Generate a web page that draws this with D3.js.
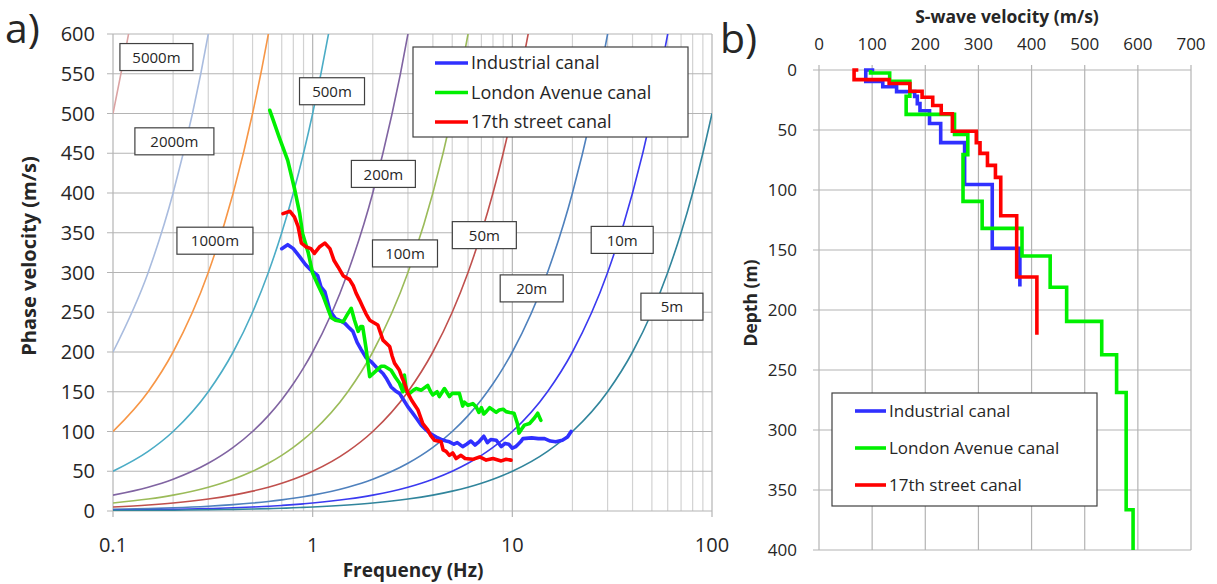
<!DOCTYPE html>
<html>
<head>
<meta charset="utf-8">
<script src="https://cdn.jsdelivr.net/npm/d3@7"></script>
<style>
  body { margin: 0; background: #fff; }
  text { font-family: "Open Sans", "Noto Sans", sans-serif; fill: #262626; }
</style>
</head>
<body>
<svg id="fig" width="1217" height="584"></svg>
<script>
// ---- panel a) data ----
const freqTicks = [0.1, 1, 10, 100];
const freqMinor = [0.2, 0.3, 0.4, 0.5, 0.6, 0.7, 0.8, 0.9, 2, 3, 4, 5, 6, 7, 8, 9, 20, 30, 40, 50, 60, 70, 80, 90];
const phaseTicks = [0, 50, 100, 150, 200, 250, 300, 350, 400, 450, 500, 550, 600];

// constant-wavelength reference lines (v = wavelength * f), sampled at these frequencies
const wavelengths = [5000, 2000, 1000, 500, 200, 100, 50, 20, 10, 5];
const wavelengthNames = ['5000m', '2000m', '1000m', '500m', '200m', '100m', '50m', '20m', '10m', '5m'];
const wavelengthColors = ['#dba3a3', '#a9bcdf', '#f79646', '#4bacc6', '#8064a2', '#9bbb59', '#c0504d', '#4f81bd', '#3a3af0', '#31859c'];
const sampleFreqs = [0.1, 0.15, 0.2, 0.3, 0.4, 0.5, 0.6, 0.7, 0.8, 0.9, 1, 1.5, 2, 3, 4, 5, 6, 7, 8, 9, 10, 15, 20, 30, 40, 50, 60, 70, 80, 90, 100];

const seriesNames = ['Industrial canal', 'London Avenue canal', '17th street canal'];
const seriesColors = ['#3030ff', '#00f000', '#ff0000'];

// dispersion curves [frequency Hz, phase velocity m/s]
const industrialDisp = [
  [0.70, 330], [0.75, 335], [0.80, 330], [0.86, 320], [0.92, 310], [0.97, 304], [1.06, 296], [1.10, 282],
  [1.15, 276], [1.22, 252], [1.30, 242], [1.36, 240], [1.45, 236], [1.53, 230], [1.59, 226], [1.67, 212],
  [1.75, 203], [1.85, 193], [1.96, 188], [2.10, 180], [2.25, 173], [2.35, 166], [2.47, 156], [2.60, 151],
  [2.72, 148], [2.85, 140], [3.00, 131], [3.15, 124], [3.30, 117], [3.50, 108], [3.70, 102], [3.90, 97],
  [4.16, 93], [4.40, 90], [4.66, 88], [4.84, 87], [5.10, 84], [5.30, 86], [5.64, 81], [5.90, 84],
  [6.20, 88], [6.50, 83], [6.80, 87], [7.20, 94], [7.50, 86], [7.80, 90], [8.30, 89], [8.80, 81],
  [9.20, 85], [9.60, 84], [10.0, 79], [10.4, 81], [10.7, 84], [11.0, 87], [11.3, 91], [12.5, 92],
  [13.5, 91], [14.5, 91], [15.5, 88], [16.5, 87], [17.8, 89], [18.9, 93], [19.7, 100]
];
const londonDisp = [
  [0.61, 504], [0.68, 470], [0.75, 441], [0.81, 406], [0.86, 375], [0.89, 349], [0.95, 325], [1.00, 299],
  [1.06, 285], [1.13, 270], [1.19, 255], [1.24, 243], [1.30, 240], [1.42, 238], [1.49, 247], [1.56, 255],
  [1.62, 240], [1.69, 226], [1.74, 232], [1.78, 232], [1.85, 205], [1.93, 169], [2.05, 175], [2.20, 182],
  [2.29, 182], [2.47, 177], [2.60, 168], [2.72, 161], [2.83, 150], [2.88, 171], [2.95, 150], [3.06, 148],
  [3.20, 152], [3.30, 154], [3.50, 152], [3.77, 158], [3.90, 150], [4.00, 146], [4.20, 150], [4.31, 144],
  [4.57, 154], [4.84, 144], [5.00, 148], [5.23, 148], [5.43, 148], [5.64, 132], [5.75, 137], [6.00, 133],
  [6.34, 135], [6.59, 131], [6.80, 124], [7.00, 130], [7.20, 122], [7.40, 125], [7.70, 130], [8.00, 127],
  [8.30, 124], [8.60, 127], [9.00, 128], [9.30, 125], [9.70, 124], [10.2, 123], [10.6, 110], [10.8, 98],
  [11.2, 104], [11.5, 108], [12.2, 110], [12.9, 117], [13.4, 123], [13.9, 114]
];
const streetDisp = [
  [0.71, 374], [0.77, 377], [0.81, 370], [0.845, 358], [0.878, 337], [0.93, 332], [0.98, 330], [1.02, 324],
  [1.08, 332], [1.15, 337], [1.22, 330], [1.28, 315], [1.34, 307], [1.42, 296], [1.53, 291], [1.60, 283],
  [1.65, 274], [1.72, 265], [1.78, 257], [1.85, 248], [1.93, 240], [2.12, 234], [2.20, 222], [2.25, 215],
  [2.43, 207], [2.50, 195], [2.57, 186], [2.72, 177], [2.80, 168], [2.88, 161], [3.00, 148], [3.12, 140],
  [3.25, 133], [3.37, 127], [3.56, 110], [3.77, 102], [3.90, 95], [4.07, 89], [4.40, 87], [4.50, 77],
  [4.66, 75], [4.84, 70], [5.03, 73], [5.23, 66], [5.53, 70], [5.80, 66], [6.34, 65], [6.86, 68],
  [7.40, 64], [8.00, 66], [8.80, 63], [9.30, 65], [9.85, 64]
];

// ---- panel b) data: layers [S-wave velocity m/s, top depth m, bottom depth m] ----
const vsTicks = [0, 100, 200, 300, 400, 500, 600, 700];
const depthTicks = [0, 50, 100, 150, 200, 250, 300, 350, 400];
const industrialVs = [
  [104, 0, 0], [88, 0, 9.5], [120, 9.5, 14], [146, 14, 18], [180, 18, 22], [185, 22, 28], [190, 28, 34],
  [208, 34, 44.6], [229, 44.6, 60.5], [274, 60.5, 95.4], [326, 95.4, 148.5], [378, 148.5, 180.5]
];
const londonVs = [
  [97, 0, 2.5], [133, 2.5, 9.4], [171, 9.4, 21.9], [164, 21.9, 37], [255, 37, 53.7], [280, 53.7, 70.5],
  [271, 70.5, 109.5], [307, 109.5, 132], [382, 132, 155], [435, 155, 181], [466, 181, 209.5],
  [532, 209.5, 237.3], [560, 237.3, 268.7], [578, 268.7, 366.4], [591, 366.4, 400]
];
const streetVs = [
  [74, 0, 0], [66, 0, 8], [132, 8, 11.3], [171, 11.3, 17.7], [194, 17.7, 22.7], [214, 22.7, 29.6],
  [230, 29.6, 36.5], [251, 36.5, 51], [296, 51, 60.6], [303, 60.6, 69.5], [317, 69.5, 79.5],
  [332, 79.5, 89.5], [342, 89.5, 121.5], [372, 121.5, 172.5], [410, 172.5, 220.6]
];

// label boxes for wavelength lines: centre in data coords and box width (layout only)
const wavelengthLabelPos = [
  [0.165, 571, 73], [0.203, 465, 79], [0.324, 340, 76], [1.25, 528, 65], [2.26, 424, 64],
  [2.9, 324, 65], [7.24, 347, 64], [12.5, 280, 63], [35.5, 341, 62], [63, 257, 62]
];

const svg = d3.select('#fig');
svg.append('rect').attr('width', 1217).attr('height', 584).attr('fill', '#fff');

// ================= panel a =================
const x = d3.scaleLog().domain([0.1, 100]).range([113, 712]);
const y = d3.scaleLinear().domain([0, 600]).range([511, 34]);

const a = svg.append('g');

a.append('defs').append('clipPath').attr('id', 'clipA')
  .append('rect').attr('x', 113).attr('y', 34).attr('width', 599).attr('height', 477);

// minor vertical grid
a.selectAll('.vminor').data(freqMinor).enter().append('line')
  .attr('x1', d => x(d)).attr('x2', d => x(d))
  .attr('y1', y(0)).attr('y2', y(600))
  .attr('stroke', '#d2d2d2').attr('stroke-width', 1.2);
// major vertical grid + tick
a.selectAll('.vmajor').data(freqTicks).enter().append('line')
  .attr('x1', d => x(d)).attr('x2', d => x(d))
  .attr('y1', y(0) + 6).attr('y2', y(600))
  .attr('stroke', '#b4b4b4').attr('stroke-width', 1.2);
// horizontal grid + tick
a.selectAll('.hgrid').data(phaseTicks).enter().append('line')
  .attr('x1', x(0.1) - 6).attr('x2', x(100))
  .attr('y1', d => y(d)).attr('y2', d => y(d))
  .attr('stroke', '#b4b4b4').attr('stroke-width', 1.2);

a.selectAll('.ylab').data(phaseTicks).enter().append('text')
  .attr('x', 95).attr('y', d => y(d)).attr('dy', '0.36em')
  .attr('text-anchor', 'end').style('font-size', '20px')
  .text(d => d);
a.selectAll('.xlab').data(freqTicks).enter().append('text')
  .attr('x', d => x(d)).attr('y', 545).attr('dy', '0.36em')
  .attr('text-anchor', 'middle').style('font-size', '20px')
  .text(d => d);

a.append('text').attr('x', 413).attr('y', 570).attr('dy', '0.36em')
  .attr('text-anchor', 'middle').style('font-size', '19px').style('font-weight', 'bold')
  .text('Frequency (Hz)');
a.append('text').attr('transform', 'translate(29,256) rotate(-90)').attr('dy', '0.36em')
  .attr('text-anchor', 'middle').style('font-size', '20px').style('font-weight', 'bold')
  .text('Phase velocity (m/s)');
a.append('text').attr('x', 5).attr('y', 43).style('font-size', '41px').text('a)');

const lineA = d3.line().x(d => x(d[0])).y(d => y(d[1]));
const smoothA = d3.line().x(d => x(d[0])).y(d => y(d[1])).curve(d3.curveMonotoneX);
const plotA = a.append('g').attr('clip-path', 'url(#clipA)');

plotA.selectAll('.wl').data(wavelengths).enter().append('path')
  .attr('d', lam => smoothA(sampleFreqs.map(f => [f, lam * f])))
  .attr('fill', 'none')
  .attr('stroke', (d, i) => wavelengthColors[i])
  .attr('stroke-width', 1.6);

plotA.selectAll('.disp').data([industrialDisp, londonDisp, streetDisp]).enter().append('path')
  .attr('d', lineA)
  .attr('fill', 'none')
  .attr('stroke', (d, i) => seriesColors[i])
  .attr('stroke-width', 3.6)
  .attr('stroke-linejoin', 'round')
  .attr('stroke-linecap', 'round');

const wlLabels = a.selectAll('.wlab').data(wavelengthNames).enter().append('g')
  .attr('transform', (d, i) => `translate(${x(wavelengthLabelPos[i][0])},${y(wavelengthLabelPos[i][1])})`);
wlLabels.append('rect')
  .attr('x', (d, i) => -wavelengthLabelPos[i][2] / 2).attr('y', -13.5)
  .attr('width', (d, i) => wavelengthLabelPos[i][2]).attr('height', 27)
  .attr('fill', '#fff').attr('stroke', '#404040').attr('stroke-width', 1.2);
wlLabels.append('text').attr('text-anchor', 'middle').attr('dy', '0.38em')
  .style('font-size', '15px').text(d => d);

// legend a
const legA = a.append('g').attr('transform', 'translate(413,47)');
legA.append('rect').attr('width', 275).attr('height', 90)
  .attr('fill', '#fff').attr('stroke', '#404040').attr('stroke-width', 1.2);
const legARows = legA.selectAll('.row').data(seriesNames).enter().append('g')
  .attr('transform', (d, i) => `translate(0,${16 + i * 29.5})`);
legARows.append('line').attr('x1', 22).attr('x2', 55)
  .attr('stroke', (d, i) => seriesColors[i]).attr('stroke-width', 3.6);
legARows.append('text').attr('x', 58).attr('dy', '0.36em')
  .style('font-size', '18px').text(d => d);

// ================= panel b =================
const xb = d3.scaleLinear().domain([0, 700]).range([819, 1191]);
const yb = d3.scaleLinear().domain([0, 400]).range([70, 550]);
const b = svg.append('g');

b.selectAll('.vg').data(vsTicks).enter().append('line')
  .attr('x1', d => xb(d)).attr('x2', d => xb(d))
  .attr('y1', yb(0) - 5).attr('y2', yb(400))
  .attr('stroke', '#b4b4b4').attr('stroke-width', 1.2);
b.selectAll('.hg').data(depthTicks).enter().append('line')
  .attr('x1', xb(0) - 6).attr('x2', xb(700))
  .attr('y1', d => yb(d)).attr('y2', d => yb(d))
  .attr('stroke', '#b4b4b4').attr('stroke-width', 1.2);

b.selectAll('.xl').data(vsTicks).enter().append('text')
  .attr('x', d => xb(d)).attr('y', 44).attr('dy', '0.36em')
  .attr('text-anchor', 'middle').style('font-size', '17px').text(d => d);
b.selectAll('.yl').data(depthTicks).enter().append('text')
  .attr('x', 797).attr('y', d => yb(d)).attr('dy', '0.36em')
  .attr('text-anchor', 'end').style('font-size', '17px').text(d => d);

b.append('text').attr('x', 1007).attr('y', 17).attr('dy', '0.36em')
  .attr('text-anchor', 'middle').style('font-size', '17.5px').style('font-weight', 'bold')
  .text('S-wave velocity (m/s)');
b.append('text').attr('transform', 'translate(751,303) rotate(-90)').attr('dy', '0.36em')
  .attr('text-anchor', 'middle').style('font-size', '17.5px').style('font-weight', 'bold')
  .text('Depth (m)');
b.append('text').attr('x', 720).attr('y', 53).style('font-size', '41px').text('b)');

const lineB = d3.line().x(d => xb(d[0])).y(d => yb(d[1]));
const steps = layers => layers.flatMap(l => [[l[0], l[1]], [l[0], l[2]]]);

b.selectAll('.prof').data([industrialVs, londonVs, streetVs]).enter().append('path')
  .attr('d', d => lineB(steps(d)))
  .attr('fill', 'none')
  .attr('stroke', (d, i) => seriesColors[i])
  .attr('stroke-width', 3.6)
  .attr('stroke-linejoin', 'miter');

const legB = b.append('g').attr('transform', 'translate(832,393)');
legB.append('rect').attr('width', 265).attr('height', 113)
  .attr('fill', '#fff').attr('stroke', '#404040').attr('stroke-width', 1.2);
const legBRows = legB.selectAll('.row').data(seriesNames).enter().append('g')
  .attr('transform', (d, i) => `translate(0,${18 + i * 37})`);
legBRows.append('line').attr('x1', 23).attr('x2', 54)
  .attr('stroke', (d, i) => seriesColors[i]).attr('stroke-width', 3.6);
legBRows.append('text').attr('x', 57).attr('dy', '0.36em')
  .style('font-size', '17px').text(d => d);
</script>
</body>
</html>
